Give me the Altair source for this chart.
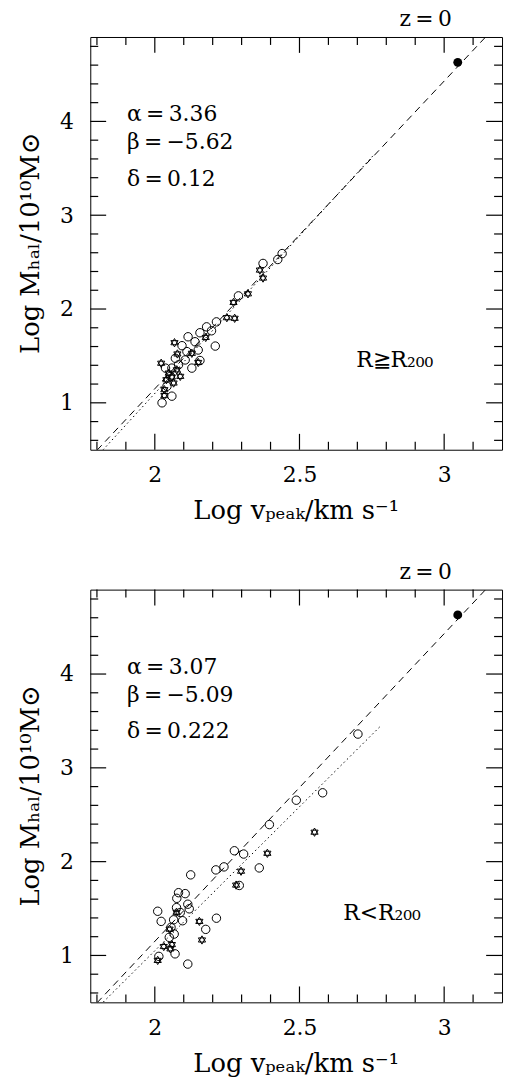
import altair as alt
import pandas as pd

# ---- axis ranges and tick positions -------------------------------------
X_DOMAIN = [1.777, 3.2]
Y_DOMAIN = [0.5, 4.9]
X_MAJOR = [2.0, 2.5, 3.0]
X_MINOR = [1.8, 1.9, 2.1, 2.2, 2.3, 2.4, 2.6, 2.7, 2.8, 2.9, 3.1]
Y_MAJOR = [1, 2, 3, 4]
Y_MINOR = [0.6, 0.8, 1.2, 1.4, 1.6, 1.8, 2.2, 2.4, 2.6, 2.8,
           3.2, 3.4, 3.6, 3.8, 4.2, 4.4, 4.6, 4.8]

# ---- haloes outside R200 ------------------------------------------------
out_circ_x = [2.440, 2.425, 2.374, 2.289, 2.213, 2.179, 2.196, 2.156, 2.209,
              2.115, 2.139, 2.094, 2.150, 2.071, 2.105, 2.156, 2.128, 2.059,
              2.037, 2.054, 2.042, 2.059, 2.025, 2.082, 2.111]
out_circ_y = [2.591, 2.528, 2.486, 2.140, 1.863, 1.810, 1.768, 1.747, 1.605,
              1.704, 1.651, 1.609, 1.563, 1.475, 1.457, 1.451, 1.370, 1.370,
              1.370, 1.282, 1.176, 1.071, 1.000, 1.405, 1.546]
out_star_x = [2.363, 2.374, 2.322, 2.272, 2.249, 2.276, 2.176, 2.068, 2.078,
              2.128, 2.022, 2.048, 2.076, 2.088, 2.040, 2.059, 2.033, 2.033,
              2.065, 2.150]
out_star_y = [2.415, 2.330, 2.162, 2.070, 1.908, 1.901, 1.697, 1.641, 1.521,
              1.528, 1.422, 1.317, 1.352, 1.282, 1.246, 1.275, 1.140, 1.077,
              1.211, 1.430]

# ---- haloes inside R200 -------------------------------------------------
in_circ_x = [2.702, 2.580, 2.489, 2.396, 2.307, 2.275, 2.361, 2.239, 2.211,
             2.124, 2.292, 2.082, 2.105, 2.076, 2.114, 2.119, 2.075, 2.088,
             2.010, 2.022, 2.096, 2.065, 2.213, 2.056, 2.176, 2.067, 2.050,
             2.070, 2.014, 2.114]
in_circ_y = [3.360, 2.734, 2.655, 2.395, 2.081, 2.116, 1.933, 1.944, 1.912,
             1.859, 1.746, 1.669, 1.659, 1.609, 1.546, 1.497, 1.510, 1.458,
             1.471, 1.363, 1.370, 1.380, 1.397, 1.300, 1.278, 1.228, 1.193,
             1.017, 0.990, 0.908]
in_star_x = [2.552, 2.389, 2.298, 2.281, 2.154, 2.163, 2.051, 2.031, 2.059,
             2.054, 2.010, 2.075]
in_star_y = [2.314, 2.089, 1.898, 1.750, 1.363, 1.165, 1.280, 1.095, 1.116,
             1.070, 0.947, 1.460]

# host halo (filled point) and the reference relation through it
host_x = [3.047]
host_y = [4.63]
ref_x = [1.80, 3.15]
ref_y = [0.494, 4.922]

# ---- styling -------------------------------------------------------------
W, H = 415, 416
FONT = "DejaVu Serif"
MAJOR_LEN, MINOR_LEN = 16, 8        # tick lengths in pixels
HEXAGRAM = "M0,-1L0.866,0.5L-0.866,0.5Z M0,1L-0.866,-0.5L0.866,-0.5Z"
EQ = "\u2009=\u2009"

# Tick glyphs: a segment of two path units starting at the anchor point.
# A custom symbol is drawn at sqrt(size)/2 px per unit, so size = length^2.
TICK_UP = "M0,0L0,-2"
TICK_DOWN = "M0,0L0,2"
TICK_RIGHT = "M0,0L2,0"
TICK_LEFT = "M0,0L-2,0"

xs = alt.Scale(domain=X_DOMAIN, nice=False, zero=False)
ys = alt.Scale(domain=Y_DOMAIN, nice=False, zero=False)
x_axis = alt.Axis(values=X_MAJOR, format="~g", ticks=False, domain=False,
                  grid=False, title=None, labelFont=FONT, labelFontSize=22,
                  labelPadding=15)
y_axis = alt.Axis(values=Y_MAJOR, format="d", ticks=False, domain=False,
                  grid=False, title=None, labelFont=FONT, labelFontSize=22,
                  labelPadding=17)


def tick_rows(major, minor):
    vals = list(major) + list(minor)
    sizes = [MAJOR_LEN ** 2] * len(major) + [MINOR_LEN ** 2] * len(minor)
    return vals, sizes


def side_ticks(side):
    """Inward-pointing frame ticks along one side of the panel."""
    if side in ("bottom", "top"):
        vals, sizes = tick_rows(X_MAJOR, X_MINOR)
        edge = Y_DOMAIN[0] if side == "bottom" else Y_DOMAIN[1]
        df = pd.DataFrame({"x": vals, "y": [edge] * len(vals), "s": sizes})
        shape = TICK_UP if side == "bottom" else TICK_DOWN
    else:
        vals, sizes = tick_rows(Y_MAJOR, Y_MINOR)
        edge = X_DOMAIN[0] if side == "left" else X_DOMAIN[1]
        df = pd.DataFrame({"x": [edge] * len(vals), "y": vals, "s": sizes})
        shape = TICK_RIGHT if side == "left" else TICK_LEFT
    return alt.Chart(df).mark_point(
        shape=shape, filled=False, color="black", strokeWidth=1.2,
        opacity=1).encode(
        x=alt.X("x:Q", scale=xs, axis=x_axis),
        y=alt.Y("y:Q", scale=ys, axis=y_axis),
        size=alt.Size("s:Q", scale=None))


def label(text, x, y, size=22, align="left", angle=0):
    return alt.Chart(pd.DataFrame({"t": [text]})).mark_text(
        font=FONT, fontSize=size, color="black", align=align,
        baseline="middle", angle=angle).encode(
        text="t:N", x=alt.value(x), y=alt.value(y))


def xy(chart):
    return chart.encode(x=alt.X("x:Q", scale=xs, axis=x_axis),
                        y=alt.Y("y:Q", scale=ys, axis=y_axis))


def panel(cx, cy, sx, sy, alpha, beta, delta, fit_end, region, region_x):
    circles = xy(alt.Chart(pd.DataFrame({"x": cx, "y": cy})).mark_point(
        shape="circle", size=72, filled=False, color="black",
        strokeWidth=1, opacity=1))
    stars = xy(alt.Chart(pd.DataFrame({"x": sx, "y": sy})).mark_point(
        shape=HEXAGRAM, size=70, filled=False, color="black",
        strokeWidth=1, opacity=1))
    host = xy(alt.Chart(pd.DataFrame({"x": host_x, "y": host_y})).mark_point(
        shape="circle", size=80, filled=True, color="black", opacity=1))
    ref = xy(alt.Chart(pd.DataFrame({"x": ref_x, "y": ref_y})).mark_line(
        color="black", strokeWidth=1, strokeDash=[7, 5], clip=True))
    fx = [1.80, fit_end]
    fy = [alpha * v + beta for v in fx]
    fit = xy(alt.Chart(pd.DataFrame({"x": fx, "y": fy})).mark_line(
        color="black", strokeWidth=1, strokeDash=[1.5, 3], clip=True))

    ticks = [side_ticks(s) for s in ("bottom", "top", "left", "right")]

    beta_txt = f"{beta:.2f}".replace("-", "\u2212")
    texts = [
        label(f"\u03b1{EQ}{alpha:.2f}", 37, 78),
        label(f"\u03b2{EQ}{beta_txt}", 37, 106),
        label(f"\u03b4{EQ}{delta}", 37, 143),
        label(f"z{EQ}0", 338, -18, size=22, align="center"),
        label(region, region_x, 326, size=22),
        label("Log v\u209a\u2091\u2090\u2096/km s\u207b\u00b9", W / 2, H + 62,
              size=26, align="center"),
        label("Log M\u2095\u2090\u2097/10\u00b9\u2070M\u2299", -60, H / 2,
              size=26, align="center", angle=270),
    ]
    return alt.layer(ref, fit, circles, stars, host, *ticks, *texts
                     ).properties(width=W, height=H)


top = panel(out_circ_x, out_circ_y, out_star_x, out_star_y,
            3.36, -5.62, "0.12", 2.76, "R\u2267R\u2082\u2080\u2080", 358 - 90)
bottom = panel(in_circ_x, in_circ_y, in_star_x, in_star_y,
               3.07, -5.09, "0.222", 2.78, "R<R\u2082\u2080\u2080", 345 - 90)

chart = alt.vconcat(top, bottom, spacing=141, bounds="flush").properties(
    padding={"left": 17, "top": 3, "right": 0, "bottom": 0}
).configure_view(stroke="black", strokeWidth=1)

chart.save("out.html", embed_options={"renderer": "svg", "actions": False})
